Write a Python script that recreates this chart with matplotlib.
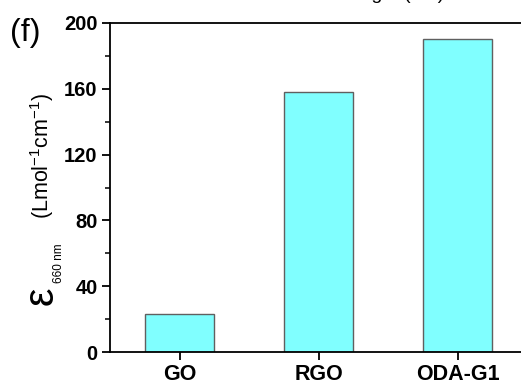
import matplotlib.pyplot as plt
import numpy as np
from matplotlib.ticker import MultipleLocator

plt.rcParams['font.family'] = ['Liberation Sans', 'DejaVu Sans']
plt.rcParams['mathtext.fontset'] = 'custom'
plt.rcParams['mathtext.rm'] = 'Liberation Sans'
plt.rcParams['mathtext.default'] = 'regular'

# data
samples = ['GO', 'RGO', 'ODA-G1']
epsilon = [23, 158, 190]

W, H = 521, 385
fig = plt.figure(figsize=(W / 100, H / 100), dpi=100)
ax = fig.add_axes([110 / W, 1 - 352 / H, 417 / W, 329 / H])

x = np.arange(len(samples))
ax.bar(x, epsilon, width=0.5, color='#80ffff', edgecolor='#606060', linewidth=1.0, zorder=2)

ax.set_xlim(-0.5, 2.5)
ax.set_ylim(0, 200)
ax.set_xticks(x)
ax.set_xticklabels(samples, fontsize=15.5, fontweight='bold')
ax.yaxis.set_major_locator(MultipleLocator(40))
ax.yaxis.set_minor_locator(MultipleLocator(20))
for lab in ax.get_yticklabels():
    lab.set_fontweight('bold')

for s in ax.spines.values():
    s.set_linewidth(1.3)
ax.tick_params(axis='both', which='major', direction='out', length=6, width=1.3, pad=3)
ax.tick_params(axis='y', labelsize=14.5)
ax.tick_params(axis='y', which='minor', direction='out', length=3.5, width=1.1)

# y label pieces
fig.text(53 / W, 1 - 305 / H, 'ε', fontsize=30, rotation=90,
         rotation_mode='anchor', ha='left', va='baseline')
fig.text(62 / W, 1 - 283 / H, '660 nm', fontsize=8.5, rotation=90,
         rotation_mode='anchor', ha='left', va='baseline')
fig.text(49 / W, 1 - 219 / H, r'(Lmol$^{-1}$cm$^{-1}$)', fontsize=15.5, rotation=90,
         rotation_mode='anchor', ha='left', va='baseline')

fig.text(10 / W, 1 - 41 / H, '(f)', fontsize=23)
# clipped title of the neighbouring panel
fig.text(444 / W, 1 + 1 / H, 'Wavelength (nm)', fontsize=14, ha='right', va='baseline')

fig.savefig('out.png', dpi=100)
